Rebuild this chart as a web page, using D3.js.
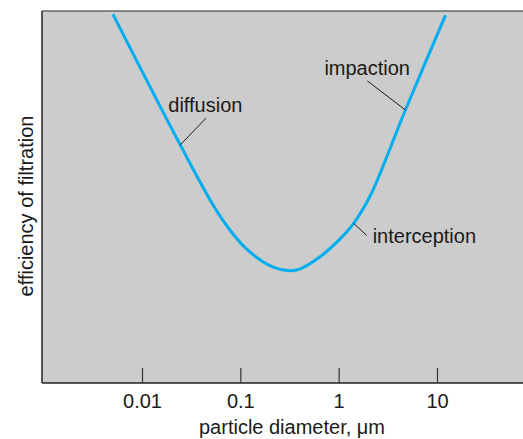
<!DOCTYPE html>
<html>
<head>
<meta charset="utf-8">
<script src="https://cdn.jsdelivr.net/npm/d3@7"></script>
<style>
  body { margin: 0; background: #fff; }
  text { font-family: "Liberation Sans", Arial, sans-serif; fill: #1a1a1a; }
</style>
</head>
<body>
<div id="chart"></div>
<script>
// particle diameter (um) and filtration efficiency (arbitrary %)
var diameters = [0.00507, 0.0245, 0.0535, 0.0791, 0.117, 0.202, 0.323, 0.408, 0.651, 1.04, 1.42, 2.10, 4.77, 12.2];
var efficiency = [99.1, 64.0, 47.6, 41.0, 35.9, 31.5, 30.2, 30.7, 34.0, 38.8, 42.9, 50.4, 73.4, 98.9];
var tickValues = [0.01, 0.1, 1, 10];
var tickLabels = ["0.01", "0.1", "1", "10"];

// annotations: label, point on curve (diameter, efficiency)
var labels = ["diffusion", "impaction", "interception"];
var labelAt = [0.0245, 4.77, 1.42];
var labelEff = [64.0, 73.4, 42.9];

var margin = {top: 11, right: 0, bottom: 56, left: 42},
    width = 523 - margin.left - margin.right,
    height = 439 - margin.top - margin.bottom;

var svg = d3.select("#chart")
  .append("svg")
    .attr("width", 523)
    .attr("height", 439)
  .append("g")
    .attr("transform", "translate(" + margin.left + "," + margin.top + ")");

var x = d3.scaleLog()
  .domain([0.01, 10])
  .range([100, 395]);

var y = d3.scaleLinear()
  .domain([0, 100])
  .range([height, 0]);

// plot background
svg.append("rect")
  .attr("width", width)
  .attr("height", height)
  .attr("fill", "#cccccc");

svg.append("line")
  .attr("x1", 0).attr("x2", width)
  .attr("y1", 0).attr("y2", 0)
  .attr("stroke", "#666").attr("stroke-width", 1.5);

svg.append("line")
  .attr("x1", 0).attr("x2", 0)
  .attr("y1", 0).attr("y2", height)
  .attr("stroke", "#222").attr("stroke-width", 1.5);

// x axis, ticks pointing inward
var xAxis = svg.append("g")
  .attr("transform", "translate(0," + height + ")")
  .call(d3.axisBottom(x)
    .tickValues(tickValues)
    .tickFormat(function(d, i) { return tickLabels[i]; })
    .tickSizeInner(-15)
    .tickSizeOuter(0)
    .tickPadding(11));

xAxis.select(".domain")
  .attr("d", "M0,0H" + width)
  .attr("stroke", "#222").attr("stroke-width", 1.5);
xAxis.selectAll(".tick line").attr("stroke", "#333").attr("stroke-width", 1.2);
xAxis.selectAll(".tick text")
  .attr("font-size", 20)
  .attr("font-family", "Liberation Sans, Arial, sans-serif")
  .attr("fill", "#1a1a1a");

// axis titles
svg.append("text")
  .attr("x", 250)
  .attr("y", height + 51)
  .attr("text-anchor", "middle")
  .attr("font-size", 20)
  .text("particle diameter, \u03bcm");

svg.append("text")
  .attr("transform", "translate(-9," + 195 + ") rotate(-90)")
  .attr("text-anchor", "middle")
  .attr("font-size", 20)
  .text("efficiency of filtration");

// the curve
var pts = diameters.map(function(d, i) { return {d: d, e: efficiency[i]}; });
svg.append("path")
  .datum(pts)
  .attr("fill", "none")
  .attr("stroke", "#00aeef")
  .attr("stroke-width", 3)
  .attr("d", d3.line()
    .curve(d3.curveCatmullRom.alpha(0.5))
    .x(function(p) { return x(p.d); })
    .y(function(p) { return y(p.e); }));

// annotations
var offsets = [
  {lx: 26, ly: -27, tx: -12, ty: -33, anchor: "start"},
  {lx: -38, ly: -29, tx: -81, ty: -35, anchor: "start"},
  {lx: 13, ly: 12, tx: 19, ty: 20, anchor: "start"}
];
labels.forEach(function(t, i) {
  var px = x(labelAt[i]), py = y(labelEff[i]);
  var o = offsets[i];
  svg.append("line")
    .attr("x1", px).attr("y1", py)
    .attr("x2", px + o.lx).attr("y2", py + o.ly)
    .attr("stroke", "#1a1a1a").attr("stroke-width", 1);
  svg.append("text")
    .attr("x", px + o.tx)
    .attr("y", py + o.ty)
    .attr("text-anchor", o.anchor)
    .attr("font-size", 20)
    .text(t);
});
</script>
</body>
</html>
